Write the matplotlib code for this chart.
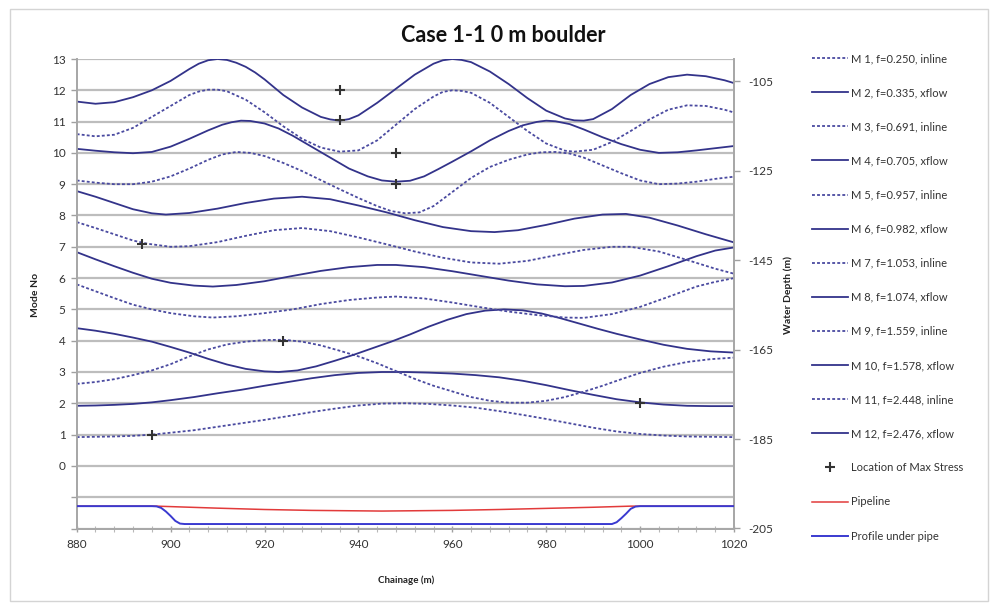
import matplotlib
matplotlib.use("Agg")
import matplotlib.pyplot as plt
from matplotlib.patches import Rectangle

plt.rcParams['font.family'] = ['Lato', 'DejaVu Sans']
plt.rcParams['axes.unicode_minus'] = False

# ---- mode shapes (mode number + normalised shape) ----
m1_x = [880, 884, 888, 892, 896, 900, 905, 910, 915, 920, 925, 930, 935, 940, 945, 950, 955, 960, 965, 970, 975, 980, 985, 990, 995, 1000, 1005, 1010, 1015, 1020]
m1_y = [0.92, 0.93, 0.94, 0.96, 1.0, 1.06, 1.14, 1.25, 1.36, 1.47, 1.59, 1.72, 1.83, 1.93, 1.99, 2.0, 1.98, 1.93, 1.86, 1.75, 1.63, 1.5, 1.36, 1.22, 1.1, 1.02, 0.97, 0.94, 0.93, 0.92]

m2_x = [880, 884, 888, 892, 896, 900, 905, 910, 915, 920, 925, 930, 935, 940, 945, 950, 955, 960, 965, 970, 975, 980, 985, 990, 995, 1000, 1005, 1010, 1015, 1020]
m2_y = [1.92, 1.93, 1.95, 1.98, 2.03, 2.1, 2.2, 2.32, 2.43, 2.56, 2.68, 2.8, 2.9, 2.97, 3.0, 3.0, 2.98, 2.95, 2.9, 2.83, 2.72, 2.58, 2.42, 2.27, 2.13, 2.03, 1.96, 1.92, 1.91, 1.91]

m3_x = [880, 884, 888, 892, 896, 900, 904, 908, 912, 916, 920, 924, 928, 932, 936, 940, 944, 948, 952, 956, 960, 964, 968, 972, 976, 980, 984, 988, 992, 996, 1000, 1005, 1010, 1015, 1020]
m3_y = [2.62, 2.68, 2.77, 2.9, 3.05, 3.25, 3.5, 3.72, 3.88, 3.97, 4.02, 4.03, 3.97, 3.85, 3.68, 3.5, 3.28, 3.03, 2.78, 2.56, 2.38, 2.2, 2.08, 2.02, 2.02, 2.08, 2.2, 2.37, 2.56, 2.77, 2.97, 3.17, 3.32, 3.41, 3.46]

m4_x = [880, 884, 888, 892, 896, 900, 904, 908, 912, 916, 920, 923, 927, 931, 935, 939, 943, 947, 951, 955, 959, 963, 967, 971, 975, 979, 983, 987, 991, 995, 1000, 1005, 1010, 1015, 1020]
m4_y = [4.4, 4.32, 4.22, 4.1, 3.97, 3.8, 3.62, 3.42, 3.24, 3.1, 3.02, 3.0, 3.05, 3.18, 3.36, 3.55, 3.76, 3.97, 4.2, 4.45, 4.67, 4.85, 4.96, 5.0, 4.97, 4.87, 4.72, 4.55, 4.38, 4.22, 4.04, 3.87, 3.74, 3.66, 3.62]

m5_x = [880, 884, 888, 892, 896, 900, 905, 909, 914, 920, 926, 932, 938, 944, 948, 954, 960, 966, 972, 978, 984, 988, 994, 1000, 1006, 1012, 1016, 1020]
m5_y = [5.8, 5.58, 5.36, 5.15, 5.0, 4.88, 4.78, 4.74, 4.78, 4.88, 5.0, 5.17, 5.3, 5.38, 5.41, 5.35, 5.22, 5.07, 4.93, 4.82, 4.74, 4.73, 4.85, 5.08, 5.4, 5.73, 5.88, 6.0]

m6_x = [880, 884, 888, 892, 896, 900, 905, 909, 914, 920, 926, 932, 938, 944, 948, 954, 960, 966, 972, 978, 984, 988, 994, 1000, 1006, 1012, 1016, 1020]
m6_y = [6.83, 6.6, 6.38, 6.17, 5.98, 5.85, 5.76, 5.73, 5.78, 5.9, 6.07, 6.23, 6.35, 6.42, 6.42, 6.35, 6.22, 6.07, 5.92, 5.8, 5.74, 5.75, 5.86, 6.08, 6.38, 6.7, 6.88, 6.98]

m7_x = [880, 884, 888, 892, 895, 900, 904, 910, 916, 922, 928, 934, 940, 946, 952, 958, 964, 970, 976, 982, 988, 994, 998, 1004, 1010, 1016, 1020]
m7_y = [7.79, 7.6, 7.4, 7.2, 7.1, 7.0, 7.02, 7.15, 7.35, 7.53, 7.6, 7.5, 7.3, 7.08, 6.85, 6.65, 6.5, 6.46, 6.55, 6.73, 6.9, 7.0, 7.0, 6.85, 6.58, 6.3, 6.14]

m8_x = [880, 884, 888, 892, 896, 899, 904, 910, 916, 922, 928, 934, 940, 946, 952, 958, 964, 969, 974, 980, 986, 992, 997, 1002, 1008, 1014, 1020]
m8_y = [8.78, 8.6, 8.4, 8.2, 8.07, 8.03, 8.08, 8.22, 8.4, 8.54, 8.6, 8.52, 8.32, 8.1, 7.85, 7.63, 7.5, 7.47, 7.53, 7.7, 7.9, 8.03, 8.05, 7.93, 7.68, 7.4, 7.14]

m9_x = [880, 884, 888, 892, 896, 900, 904, 908, 911, 914, 917, 920, 924, 928, 932, 936, 940, 944, 947, 950, 953, 956, 960, 964, 968, 972, 976, 979, 982, 985, 988, 992, 996, 1000, 1004, 1008, 1012, 1016, 1020]
m9_y = [9.12, 9.05, 9.0, 9.0, 9.08, 9.25, 9.5, 9.78, 9.95, 10.03, 10.0, 9.9, 9.68, 9.42, 9.13, 8.84, 8.56, 8.3, 8.14, 8.07, 8.1, 8.3, 8.75, 9.2, 9.55, 9.78, 9.95, 10.02, 10.03, 9.98, 9.85, 9.6, 9.35, 9.12, 9.0, 9.02, 9.08, 9.17, 9.24]

m10_x = [880, 884, 888, 892, 896, 900, 904, 908, 911, 913, 915, 917, 920, 923, 926, 930, 934, 938, 942, 945, 948, 951, 954, 957, 960, 964, 968, 972, 975, 978, 980, 982, 985, 988, 992, 996, 1000, 1004, 1008, 1012, 1016, 1020]
m10_y = [10.13, 10.07, 10.02, 9.99, 10.03, 10.2, 10.45, 10.72, 10.9, 10.98, 11.03, 11.02, 10.94, 10.78, 10.55, 10.2, 9.85, 9.5, 9.25, 9.12, 9.08, 9.11, 9.25, 9.48, 9.72, 10.05, 10.4, 10.7, 10.88, 10.99, 11.03, 11.01, 10.92, 10.75, 10.5, 10.28, 10.1, 10.0, 10.02, 10.08, 10.15, 10.22]

m11_x = [880, 884, 888, 892, 896, 900, 904, 906, 908, 910, 912, 916, 920, 924, 928, 932, 936, 940, 944, 948, 952, 956, 958, 960, 962, 964, 968, 972, 976, 980, 984, 986, 990, 994, 998, 1002, 1006, 1010, 1014, 1018, 1020]
m11_y = [10.6, 10.53, 10.58, 10.8, 11.15, 11.5, 11.85, 11.96, 12.02, 12.02, 11.97, 11.7, 11.3, 10.85, 10.45, 10.17, 10.04, 10.08, 10.4, 10.9, 11.4, 11.8, 11.95, 12.0, 11.98, 11.92, 11.6, 11.15, 10.7, 10.3, 10.07, 10.04, 10.1, 10.35, 10.7, 11.07, 11.38, 11.52, 11.5, 11.38, 11.29]

m12_x = [880, 884, 888, 892, 896, 900, 904, 906, 908, 910, 912, 914, 916, 918, 920, 924, 928, 932, 934, 936, 938, 940, 944, 948, 952, 956, 958, 960, 962, 964, 968, 972, 976, 980, 984, 986, 988, 990, 994, 998, 1002, 1006, 1010, 1014, 1018, 1020]
m12_y = [11.64, 11.57, 11.62, 11.78, 12.0, 12.3, 12.68, 12.85, 12.96, 13.0, 12.97, 12.88, 12.75, 12.57, 12.35, 11.85, 11.45, 11.15, 11.07, 11.03, 11.08, 11.2, 11.6, 12.05, 12.5, 12.85, 12.96, 13.0, 12.97, 12.9, 12.6, 12.2, 11.75, 11.35, 11.1, 11.04, 11.03, 11.08, 11.4, 11.85, 12.2, 12.42, 12.5, 12.45, 12.32, 12.23]

mode_labels = ["M 1, f=0.250, inline", "M 2, f=0.335, xflow", "M 3, f=0.691, inline",
               "M 4, f=0.705, xflow", "M 5, f=0.957, inline", "M 6, f=0.982, xflow",
               "M 7, f=1.053, inline", "M 8, f=1.074, xflow", "M 9, f=1.559, inline",
               "M 10, f=1.578, xflow", "M 11, f=2.448, inline", "M 12, f=2.476, xflow"]

# ---- location of maximum stress ----
stress_x = [896, 1000, 924, 894, 948, 948, 936, 936]
stress_y = [1.0, 2.0, 4.0, 7.1, 9.0, 10.0, 11.05, 12.0]

# ---- seabed profile and pipeline (water depth, m) ----
profile_x = [880, 896, 897, 898, 899, 900, 901, 902, 903, 994, 995, 996, 997, 998, 999, 1000, 1020]
profile_z = [-200, -200, -200.05, -200.4, -201.2, -202.2, -203.3, -203.9, -204, -204, -203.6, -202.7, -201.7, -200.6, -200.1, -200, -200]
pipe_x = [880, 897, 910, 920, 930, 945, 960, 970, 980, 990, 998, 1020]
pipe_z = [-200, -200, -200.45, -200.75, -200.95, -201.1, -200.95, -200.75, -200.5, -200.25, -200, -200]

# ---- figure ----
W, H = 995, 609
fig = plt.figure(figsize=(W / 100, H / 100), dpi=100)
fig.patches.append(Rectangle((10 / W, 8 / H), 978 / W, 592 / H, transform=fig.transFigure,
                             fill=False, edgecolor='#d4d4d4', lw=1.0))

ax = fig.add_axes([76.7 / W, 1 - 528.5 / H, (734 - 76.7) / W, (528.5 - 59) / H])
ax2 = ax.twinx()

solid_c = '#33338a'
dash_c = '#4a4aa0'
grid_c = '#bdbdbd'

modes = [(m1_x, m1_y), (m2_x, m2_y), (m3_x, m3_y), (m4_x, m4_y), (m5_x, m5_y), (m6_x, m6_y),
         (m7_x, m7_y), (m8_x, m8_y), (m9_x, m9_y), (m10_x, m10_y), (m11_x, m11_y), (m12_x, m12_y)]

handles = []
for i, (xs, ys) in enumerate(modes):
    if i % 2 == 0:   # inline modes: dotted
        h, = ax.plot(xs, ys, color=dash_c, lw=1.3, ls=(0, (1.6, 1.2)), label=mode_labels[i], zorder=3)
    else:            # cross-flow modes: solid
        h, = ax.plot(xs, ys, color=solid_c, lw=1.3, ls='-', label=mode_labels[i], zorder=3)
    handles.append(h)

hs, = ax.plot(stress_x, stress_y, ls='none', marker='+', ms=7, mew=1.5, color='#333333',
              label='Location of Max Stress', zorder=5)

hp, = ax2.plot(pipe_x, pipe_z, color='#e23a3a', lw=1.1, label='Pipeline', zorder=3)
hb, = ax2.plot(profile_x, profile_z, color='#3a3ad0', lw=1.4, label='Profile under pipe', zorder=4)

# left axis
ax.set_xlim(880, 1020)
ax.set_ylim(-2, 13)
ax.set_yticks(range(-2, 14))
ax.set_yticklabels(['', ''] + [str(v) for v in range(0, 14)])
ax.set_xticks(range(880, 1021, 20))
ax.set_xticks(range(880, 1021, 4), minor=True)
ax.grid(axis='y', color=grid_c, lw=1.6, zorder=0)
ax.set_axisbelow(True)
ax.tick_params(axis='y', length=4, width=1, color='#a0a0a0', labelsize=8.5, pad=4, labelcolor='#333333')
ax.tick_params(axis='x', which='major', length=5, width=1, direction='inout', color='#a0a0a0',
               labelsize=8.5, pad=5, labelcolor='#333333')
ax.tick_params(axis='x', which='minor', length=4, width=0.8, direction='inout', color='#b8b8b8')

# right axis
ax2.set_ylim(-205, -100)
ax2.set_yticks(range(-205, -100, 20))
ax2.tick_params(axis='y', length=4, width=1, color='#a0a0a0', labelsize=8.5, pad=6, labelcolor='#333333')

for a in (ax, ax2):
    a.spines['top'].set_visible(False)
    for s in ('left', 'bottom', 'right'):
        a.spines[s].set_color('#a8a8a8')
        a.spines[s].set_linewidth(1.3)

fig.text(503 / W, 1 - 35 / H, 'Case 1-1 0 m boulder', ha='center', va='center',
         fontsize=15.5, fontweight='bold', color='#111111')
fig.text(36 / W, 1 - 295 / H, 'Mode No', rotation=90, ha='center', va='center',
         fontsize=7.5, fontweight='bold', color='#222222')
fig.text(788 / W, 1 - 295 / H, 'Water Depth (m)', rotation=90, ha='center', va='center',
         fontsize=7.5, fontweight='bold', color='#222222')
fig.text(406 / W, 1 - 580 / H, 'Chainage (m)', ha='center', va='center',
         fontsize=7, fontweight='bold', color='#222222')

leg = fig.legend(handles + [hs, hp, hb], mode_labels + ['Location of Max Stress', 'Pipeline', 'Profile under pipe'],
                 loc='upper left', bbox_to_anchor=(812 / W, 1 - 53 / H), frameon=False,
                 fontsize=8, handlelength=3.2, handletextpad=0.35, labelspacing=2.08,
                 borderaxespad=0, borderpad=0)
for t in leg.get_texts():
    t.set_color('#333333')

fig.savefig('out.png', dpi=100)
